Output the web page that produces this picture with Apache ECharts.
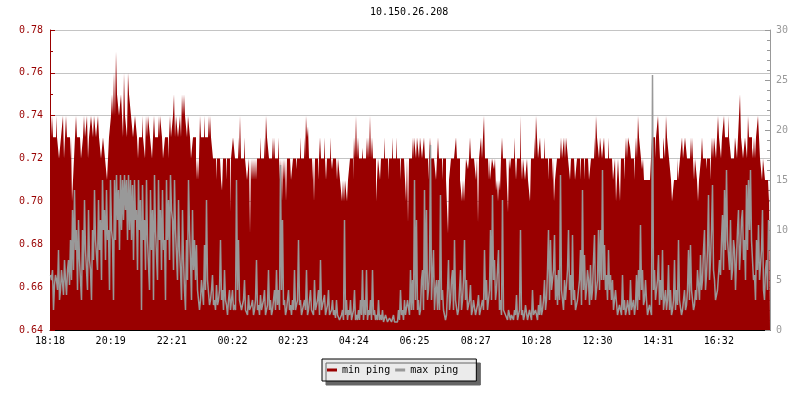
<!DOCTYPE html>
<html>
<head>
<meta charset="utf-8">
<script src="https://cdn.jsdelivr.net/npm/echarts@6/dist/echarts.min.js"></script>
<style>html,body{margin:0;padding:0;background:#fff;}#chart{width:800px;height:400px;}</style>
</head>
<body>
<div id="chart"></div>
<script>
const titleText = '10.150.26.208';
const startTime = '18:18';
const spanMinutes = 1436;
const tickLabels = ['18:18','20:19','22:21','00:22','02:23','04:24','06:25','08:27','10:28','12:30','14:31','16:32'];
const seriesNames = ['min ping', 'max ping'];

// min ping (left axis), one value per sample (~2 min each)
const minPing = [
0.72,0.72,0.74,0.73,0.73,0.73,0.74,0.73,0.73,0.72,0.72,0.73,0.73,0.74,0.72,0.73,0.74,0.73,0.73,0.73,
0.72,0.73,0.70,0.71,0.72,0.73,0.74,0.73,0.73,0.73,0.73,0.72,0.72,0.73,0.74,0.73,0.73,0.74,0.72,0.73,
0.73,0.74,0.74,0.73,0.74,0.74,0.73,0.73,0.74,0.73,0.73,0.72,0.72,0.73,0.73,0.72,0.72,0.71,0.71,0.73,
0.73,0.74,0.75,0.74,0.76,0.74,0.77,0.75,0.75,0.74,0.74,0.75,0.74,0.73,0.76,0.74,0.74,0.73,0.76,0.75,0.75,0.74,0.74,0.73,
0.73,0.74,0.74,0.73,0.72,0.73,0.73,0.73,0.74,0.73,0.73,0.72,0.74,0.73,0.74,0.74,0.73,0.73,0.72,0.73,
0.74,0.73,0.73,0.73,0.74,0.73,0.74,0.74,0.73,0.72,0.72,0.73,0.73,0.73,0.72,0.73,0.74,0.73,0.73,0.74,
0.75,0.73,0.74,0.74,0.73,0.73,0.74,0.73,0.75,0.74,0.75,0.74,0.74,0.73,0.74,0.74,0.73,0.72,0.72,0.73,
0.73,0.73,0.71,0.72,0.71,0.72,0.74,0.73,0.73,0.73,0.74,0.73,0.73,0.73,0.74,0.73,0.74,0.73,0.73,0.72,
0.72,0.72,0.71,0.72,0.72,0.72,0.72,0.71,0.705,0.72,0.72,0.72,0.71,0.72,0.72,0.72,0.695,0.72,0.72,0.73,
0.73,0.72,0.72,0.72,0.73,0.72,0.74,0.72,0.72,0.72,0.73,0.72,0.72,0.71,0.71,0.72,0.685,0.72,0.71,0.72,
0.71,0.72,0.71,0.72,0.72,0.72,0.73,0.72,0.72,0.72,0.73,0.72,0.74,0.73,0.73,0.72,0.72,0.72,0.73,0.72,
0.73,0.72,0.72,0.72,0.73,0.72,0.71,0.72,0.70,0.72,0.71,0.72,0.70,0.72,0.72,0.72,0.72,0.71,0.71,0.72,
0.72,0.72,0.715,0.72,0.72,0.72,0.73,0.72,0.72,0.72,0.73,0.72,0.74,0.73,0.735,0.72,0.72,0.72,0.71,0.72,
0.70,0.72,0.72,0.72,0.71,0.72,0.73,0.72,0.72,0.72,0.73,0.72,0.71,0.72,0.72,0.72,0.73,0.72,0.715,0.72,0.72,0.72,0.72,0.71,
0.72,0.72,0.71,0.71,0.70,0.71,0.70,0.71,0.71,0.70,0.71,0.71,0.72,0.72,0.72,0.71,0.73,0.72,0.74,0.72,
0.73,0.72,0.72,0.72,0.725,0.72,0.72,0.72,0.73,0.72,0.73,0.72,0.74,0.72,0.73,0.72,0.72,0.72,0.70,0.71,
0.72,0.72,0.71,0.72,0.72,0.72,0.73,0.72,0.72,0.72,0.71,0.72,0.72,0.72,0.73,0.72,0.72,0.72,0.73,0.72,
0.72,0.72,0.71,0.72,0.72,0.72,0.72,0.71,0.70,0.72,0.69,0.72,0.72,0.72,0.73,0.72,0.73,0.73,0.72,0.73,
0.73,0.72,0.73,0.73,0.72,0.72,0.73,0.72,0.72,0.72,0.71,0.72,0.73,0.72,0.72,0.72,0.72,0.72,0.71,0.72,
0.73,0.72,0.72,0.72,0.71,0.72,0.72,0.72,0.71,0.71,0.685,0.71,0.71,0.72,0.72,0.72,0.72,0.72,0.73,0.72,
0.72,0.72,0.71,0.71,0.70,0.71,0.70,0.71,0.72,0.72,0.715,0.72,0.73,0.72,0.72,0.72,0.72,0.72,0.71,0.72,0.69,0.72,0.72,0.73,
0.72,0.73,0.74,0.72,0.72,0.72,0.71,0.72,0.71,0.71,0.72,0.72,0.715,0.72,0.705,0.71,0.70,0.71,0.705,0.72,
0.73,0.72,0.72,0.72,0.72,0.72,0.695,0.72,0.715,0.72,0.72,0.72,0.73,0.72,0.71,0.72,0.72,0.72,0.74,0.72,
0.71,0.72,0.72,0.71,0.71,0.72,0.71,0.71,0.70,0.72,0.72,0.72,0.73,0.72,0.74,0.73,0.72,0.72,0.73,0.72,
0.72,0.72,0.73,0.72,0.72,0.72,0.71,0.72,0.72,0.72,0.71,0.72,0.70,0.71,0.71,0.72,0.72,0.72,0.72,0.73,
0.72,0.72,0.73,0.72,0.73,0.73,0.72,0.72,0.71,0.72,0.72,0.72,0.72,0.71,0.71,0.72,0.72,0.72,0.71,0.72,
0.72,0.72,0.71,0.72,0.72,0.72,0.72,0.71,0.71,0.72,0.72,0.72,0.73,0.72,0.74,0.73,0.73,0.72,0.73,0.73,
0.72,0.72,0.73,0.72,0.72,0.72,0.73,0.72,0.72,0.72,0.72,0.71,0.71,0.72,0.70,0.71,0.72,0.72,0.70,0.72,0.72,0.72,0.71,0.72,
0.73,0.72,0.73,0.73,0.725,0.72,0.72,0.72,0.71,0.72,0.73,0.72,0.74,0.73,0.73,0.72,0.715,0.72,0.71,0.71,
0.71,0.71,0.71,0.71,0.71,0.71,0.73,0.73,0.73,0.72,0.73,0.73,0.74,0.73,0.72,0.72,0.72,0.73,0.73,0.72,
0.74,0.73,0.73,0.72,0.715,0.71,0.70,0.70,0.71,0.71,0.71,0.72,0.71,0.71,0.72,0.72,0.73,0.72,0.72,0.73,
0.73,0.72,0.72,0.72,0.73,0.72,0.73,0.73,0.71,0.72,0.72,0.71,0.70,0.71,0.71,0.72,0.73,0.72,0.72,0.72,
0.715,0.72,0.72,0.72,0.71,0.72,0.73,0.72,0.73,0.73,0.72,0.73,0.74,0.73,0.73,0.72,0.73,0.73,0.74,0.73,
0.73,0.73,0.74,0.73,0.725,0.72,0.72,0.72,0.72,0.73,0.73,0.72,0.73,0.73,0.75,0.73,0.73,0.72,0.72,0.73,
0.73,0.72,0.74,0.73,0.73,0.73,0.725,0.72,0.73,0.72,0.73,0.73,0.74,0.73,0.72,0.72,0.71,0.72,0.715,0.71,0.71,0.71,0.70,0.71
];

// max ping (right axis), one value per sample (~2 min each)
const maxPing = [
5.5,5,6,2,4.5,5.5,5,4,8,3,4,6,6,3.5,7,5,3.5,6,7,4.5,
9,5,12,6,14,8,10,4,11,7,7,3,10,6,13,8,8,4,12,7,
6,3,10,7,14,9,9,6,13,8,11,5,15,10,12,7,14,9,10,4,
15,10,9,3,15,9,15.5,11,14,8,15.5,10,15,11,15.5,12,15,9,15.5,10,
15,9,14.5,7,15,11,12,6,15,10,13,2,14.5,9,11,6,15,9,9,4,
14,8,12,3,15.5,10,10,5,15,9,12,6,14,8,9,3,15,9,13,7,
15.5,12,11,6,15,10,10,5,13,8,6,3,12,7,4,2,9,5,15,10,7,3,12,6,
9,5,8.5,4,4,2,3,5,5,2.5,8.5,4,13,5,5,2.5,3,4,5.5,2.5,
3,2,4.5,2.5,3,4,9,3,4,2,6,3,2.5,1.5,3,4,2,3,4,2,
2.5,2,15,4,9,3,3,2,2,3,5,2,2,1.5,3.5,2,2,2.5,3,1.5,
2,3,7,2,2.5,1.5,3.5,2,2,3,4,1.5,2,2.5,6,2,3,1.5,2,3,
4,2,6,2.5,4,2,16.5,4,11,2.5,3,1.5,2,3,4,2,2.5,1.5,3,2,
6,2,2,3,9,2.5,3,1.5,2,2.5,3,2,6,1.5,2,3,4,2,2,1.5,
5,2,2,3,4,1.5,7,2,2,3,3.5,1.5,2,2.5,4,1.5,1.5,2,3,1.5,2,1.2,3,1.5,
1.5,1,1,1.5,2,1,11,1.5,3,1,2,1.5,3,1,1.5,2,4,1,1.5,1,
2,1,3,1.5,6,1,3,1.5,6,1,2,1.5,3,1,6,1.5,2,1,1.5,1,
3,1,1.5,1,2,0.8,1,1.5,1.5,0.8,1,1.2,1.2,0.8,1,1.5,0.8,1,1,0.8,
2,1,4,1.5,2,1,3,1.5,1.5,3,3,1.5,6,2,5,2,15,3,11,2,
3,1.5,2,5,6,2,14,4,12,3,4,6,18.5,3,3,8,2,4,5,2,
5,2,13.5,3,4,2,2,1,1.5,4,7,2,3,5,6,2,9,3,3,1.5,
2,4,6,2,3,5,9,3,5,2,2,3,4.5,1.5,2,3,3,1.5,2,2.5,3.5,1.5,1.5,2.5,
3,2,8,3,5,2,3,4,10,3,13.5,5,7,3,4,6,8,2,3,1.5,
13,2,2,1.5,1.5,1,2,1.5,1,1.5,1.5,1,2,1.5,3.5,1,1.5,2,10,1.5,
2,1,1.5,2.5,2.5,1,1.5,2,2,1,4,1.5,1.5,2,2,1,2.5,1.5,3.5,1.5,
2,3,5,2,3,6,10,3,9,4,4,6,9.5,3,5.5,2.5,6,3,15.5,4,
4,2,5,3,3,6,10,4,5.5,2.5,9.5,3,4,2,2,3,3,5,8,2.5,
14,4,7.5,3,4,6,5,2.5,6.5,3,4,7,9.5,3,3,5,10,4,10,5,
16,5,8.5,4,5.5,3,8,4,5.5,3,5,2,3,4,4,1.5,1.5,2.5,2,1.5,5.5,2,3,1.5,
2,3,3,1.5,5,2,2,3,1.5,2.5,5.5,2,6,3,10.5,4,6,2.5,3,5,
3,1.5,1.5,2.5,2,1.5,25.5,4,6,3,3,5,7.5,2.5,5,3,8,2,3,4,
2,3,6.5,2,4,1.5,2,3,7,2,4,2.5,9,3,3,1.5,2,3,4,2,
2.5,4,8,3,8.5,4,4,2,2.5,4,3,6,6,3,7.5,4,5,8,10,4,
5.5,8,13.5,5,7,10,14.5,6,5,3,3,4,4,7,5.5,9,11.5,6,14,8,
16,9,9,6,11,5,6,9,8,4,7,10,12,6,8,11,12,7,9,5,
14.5,8,15,10,16,9,9,5,5.5,3,9,6,10.5,5,5,8,12,4,3,6,7,4,11,8
];

function toMin(s) { const p = s.split(':').map(Number); return p[0] * 60 + p[1]; }
const t0 = toMin(startTime);
const tickValues = tickLabels.map(s => ((toMin(s) - t0) + 1440) % 1440);
const stepMin = spanMinutes / minPing.length;
const stepMax = spanMinutes / maxPing.length;
const minData = minPing.map((v, i) => [i * stepMin, v]);
minData.push([spanMinutes, minPing[minPing.length - 1]]);
const maxData = maxPing.map((v, i) => [(i + 0.5) * stepMax, v]);

const FONT = 'DejaVu Sans Mono';
const chart = echarts.init(document.getElementById('chart'), null, {renderer: 'canvas'});
chart.setOption({
  animation: false,
  backgroundColor: '#ffffff',
  title: {
    text: titleText, left: 370, top: 7, padding: 0,
    textStyle: {fontFamily: FONT, fontSize: 10, fontWeight: 'normal', color: '#000'}
  },
  grid: {left: 50, right: 30, top: 30, bottom: 70, containLabel: false},
  legend: {
    left: 322, top: 359, orient: 'horizontal',
    padding: [6, 18, 6, 5], itemGap: 5, itemWidth: 10, itemHeight: 3, icon: 'rect',
    backgroundColor: '#ebebeb', borderColor: '#000', borderWidth: 1,
    shadowColor: '#666666', shadowBlur: 0, shadowOffsetX: 4, shadowOffsetY: 4,
    textStyle: {fontFamily: FONT, fontSize: 10, color: '#000'},
    data: seriesNames
  },
  xAxis: {
    type: 'value', min: 0, max: spanMinutes,
    axisLine: {show: true, onZero: false, lineStyle: {color: '#000', width: 1}},
    axisTick: {show: true, inside: true, length: 5, customValues: tickValues, lineStyle: {color: '#000'}},
    axisLabel: {
      customValues: tickValues, margin: 6, color: '#000', fontFamily: FONT, fontSize: 10,
      formatter: function (v) { const k = tickValues.indexOf(Math.round(v)); return k >= 0 ? tickLabels[k] : ''; }
    },
    splitLine: {show: false}
  },
  yAxis: [
    {
      type: 'value', min: 0.64, max: 0.78, interval: 0.02, position: 'left',
      axisLine: {show: true, lineStyle: {color: '#990000'}},
      axisTick: {show: true, inside: true, length: 5, lineStyle: {color: '#990000'}},
      minorTick: {show: true, splitNumber: 2, length: 3, lineStyle: {color: '#990000'}},
      axisLabel: {color: '#990000', fontFamily: FONT, fontSize: 10, margin: 7, formatter: v => v.toFixed(2)},
      splitLine: {show: true, lineStyle: {color: '#c4c4c4', width: 1}}
    },
    {
      type: 'value', min: 0, max: 30, interval: 5, position: 'right',
      axisLine: {show: true, lineStyle: {color: '#999999'}},
      axisTick: {show: true, inside: true, length: 5, lineStyle: {color: '#999999'}},
      minorTick: {show: true, splitNumber: 5, length: 3, lineStyle: {color: '#999999'}},
      axisLabel: {color: '#999999', fontFamily: FONT, fontSize: 10, margin: 6},
      splitLine: {show: false}
    }
  ],
  series: [
    {
      name: seriesNames[0], type: 'line', yAxisIndex: 0, data: minData,
      step: 'end', symbol: 'none', showSymbol: false, color: '#990000',
      lineStyle: {width: 0, opacity: 0},
      areaStyle: {origin: 'start', color: '#990000', opacity: 1},
      z: 2
    },
    {
      name: seriesNames[1], type: 'line', yAxisIndex: 1, data: maxData,
      symbol: 'none', showSymbol: false, color: '#999999',
      lineStyle: {width: 1.5, color: '#999999'},
      z: 3
    }
  ]
});
</script>
</body>
</html>
